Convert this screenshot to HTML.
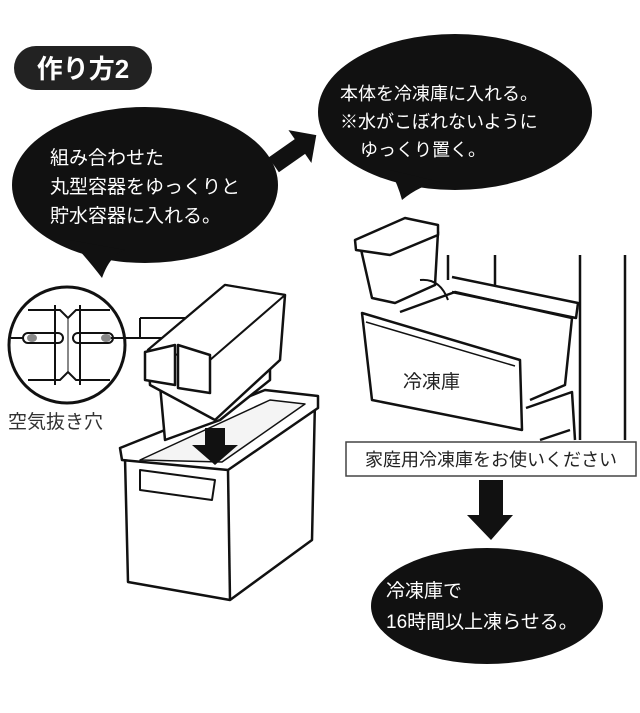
<!DOCTYPE html>
<html><head><meta charset="utf-8"><style>
body{margin:0;background:#fff}
svg text{font-family:"Liberation Sans","Noto Sans CJK JP",sans-serif}
</style></head><body>
<svg width="640" height="708" viewBox="0 0 640 708" xmlns="http://www.w3.org/2000/svg">
<rect width="640" height="708" fill="#fff"/>
<rect x="14" y="46" width="138" height="44" rx="22" fill="#222"/>
<text x="83" y="78" font-size="26" fill="#fff" text-anchor="middle" font-weight="bold">作り方2</text>
<ellipse cx="145" cy="185" rx="133" ry="78" fill="#111"/>
<path d="M70 240 Q90 262 102 278 Q110 255 125 250 Z" fill="#111"/>
<text font-size="19" fill="#fff"><tspan x="50" y="164">組み合わせた</tspan><tspan x="50" y="193">丸型容器をゆっくりと</tspan><tspan x="50" y="222">貯水容器に入れる。</tspan></text>
<ellipse cx="455" cy="112" rx="137" ry="78" fill="#111"/>
<path d="M390 170 Q398 185 402 200 Q420 185 440 182 Z" fill="#111"/>
<text font-size="18" fill="#fff"><tspan x="340" y="100">本体を冷凍庫に入れる。</tspan><tspan x="340" y="128">※水がこぼれないように</tspan><tspan x="360" y="156">ゆっくり置く。</tspan></text>
<g transform="translate(295,150) rotate(-35)"><path d="M-26 -9 H6 V-20 L26 0 L6 20 V9 H-26 Z" fill="#111"/></g>
<circle cx="67" cy="345" r="58" fill="#fff" stroke="#111" stroke-width="3"/>
<g stroke="#111" stroke-width="2" fill="none">
<path d="M28 310 H60 L68 318 L76 310 H110"/>
<path d="M28 380 H60 L68 372 L76 380 H110"/>
<line x1="55" y1="305" x2="55" y2="385"/><line x1="80" y1="305" x2="80" y2="385"/>
<line x1="68" y1="318" x2="68" y2="372" stroke-width="1"/>
<rect x="23" y="333" width="40" height="10" rx="5"/><rect x="73" y="333" width="40" height="10" rx="5"/>
<line x1="11" y1="338" x2="23" y2="338"/>
<line x1="110" y1="338" x2="200" y2="338"/><line x1="140" y1="318" x2="140" y2="338"/><line x1="140" y1="318" x2="230" y2="318"/>
</g>
<ellipse cx="32" cy="338" rx="5" ry="4" fill="#888"/><ellipse cx="106" cy="338" rx="5" ry="4" fill="#888"/>
<text x="8" y="428" font-size="19" fill="#333">空気抜き穴</text>
<g stroke="#111" stroke-width="2.5" fill="#fff" stroke-linejoin="round">
<path d="M125 458 L270 395 L315 400 L312 540 L230 600 L128 582 Z"/>
<path d="M120 448 L265 390 L318 396 L318 408 L228 470 L122 460 Z"/>
<path d="M140 460 L270 400 L305 404 L222 462 Z" fill="#f4f4f4" stroke-width="1.5"/>
<path d="M140 470 L215 480 L212 500 L140 490 Z" stroke-width="2"/>
<line x1="228" y1="470" x2="230" y2="600"/>
</g>
<g stroke="#111" stroke-width="2.5" fill="#fff" stroke-linejoin="round">
<path d="M160 385 L165 440 L220 420 L270 380 L270 330 Z"/>
<path d="M148 350 L225 285 L285 295 L280 360 L215 420 L150 385 Z"/>
<path d="M148 350 L225 285 L285 295 L210 360 Z" stroke-width="2"/>
<path d="M145 352 L175 345 L175 385 L145 380 Z"/>
<path d="M178 345 L210 355 L210 393 L178 388 Z"/>
</g>
<path d="M205 428 H225 V445 H238 L215 465 L192 445 H205 Z" fill="#111"/>
<g stroke="#111" stroke-width="2.5" fill="#fff" stroke-linejoin="round">
<path d="M360 245 L372 298 L395 303 L435 285 L438 232 Z"/>
<path d="M355 240 L405 218 L438 225 L438 235 L390 255 L356 250 Z"/>
</g>
<path d="M420 280 Q440 278 448 300" stroke="#111" stroke-width="2" fill="none"/>
<g stroke="#111" stroke-width="2.5" fill="none" stroke-linejoin="round">
<line x1="448" y1="255" x2="448" y2="280"/><line x1="495" y1="255" x2="495" y2="285"/>
<line x1="580" y1="255" x2="580" y2="440"/><line x1="625" y1="255" x2="625" y2="440"/>
<path d="M452 277 L578 303 L576 318 L452 292"/>
<path d="M400 312 L455 292 L572 318 L565 385 L530 400"/>
<path d="M362 313 L520 360 L522 430 L372 400 Z" fill="#fff"/>
<path d="M366 322 L515 366" stroke-width="1.5"/>
<path d="M526 408 L572 392 L575 440 M540 440 L570 430"/>
</g>
<text x="403" y="388" font-size="19" fill="#222">冷凍庫</text>
<rect x="346" y="442" width="290" height="34" fill="#fff" stroke="#444" stroke-width="1.5"/>
<text x="491" y="466" font-size="18" fill="#222" text-anchor="middle">家庭用冷凍庫をお使いください</text>
<path d="M479 480 H503 V515 H513 L491 540 L467 515 H479 Z" fill="#111"/>
<ellipse cx="487" cy="606" rx="116" ry="58" fill="#111"/>
<text font-size="19" fill="#fff"><tspan x="386" y="597">冷凍庫で</tspan><tspan x="386" y="628">16時間以上凍らせる。</tspan></text>
</svg>
</body></html>
